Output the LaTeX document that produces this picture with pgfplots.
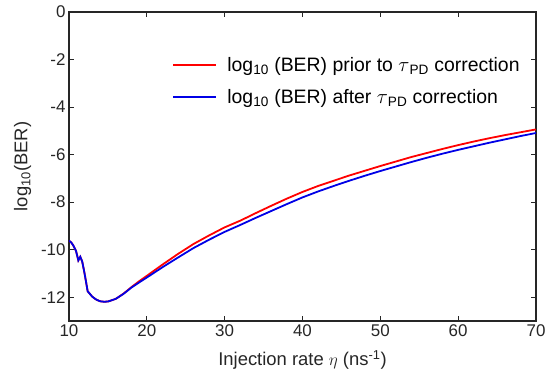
\documentclass[border=0pt]{standalone}
\usepackage{pgfplots}
\pgfplotsset{compat=1.18}
\usepackage{fontspec}
\setmainfont{Liberation Sans}
\definecolor{axc}{RGB}{38,38,38}
\definecolor{myblue}{RGB}{0,0,230}
\begin{document}
\begin{tikzpicture}
\begin{axis}[
  scale only axis, width=467bp, height=309bp,
  xmin=10, xmax=70, ymin=-13, ymax=0,
  xtick={10,20,...,70}, ytick={-12,-10,...,0},
  /pgf/number format/assume math mode=true,
  tick align=inside, major tick length=5bp,
  axis line style={axc, line width=1.1bp},
  every tick/.style={axc, line width=1.1bp},
  ticklabel style={font=\fontsize{17}{19}\selectfont, text=axc},
  label style={font=\fontsize{18.5}{21}\selectfont, text=axc},
  xlabel={Injection rate $\eta$ (ns\textsuperscript{-1})},
  ylabel={log\textsubscript{10}(BER)},
  xlabel style={yshift=-7bp},
  ylabel style={yshift=3bp},
  legend style={at={(0.976,0.866)}, anchor=north east, draw=none, fill=none,
    font=\fontsize{19.5}{22}\selectfont, row sep=12bp, text=black,
    /tikz/every odd column/.append style={column sep=8bp}},
  legend cell align=left,
  legend image code/.code={\draw[#1, line width=2bp] (0bp,0bp) -- (43bp,0bp);},
]
\addplot[red, line width=1.8bp] coordinates {
(10,-9.62)(10.3,-9.7)(10.6,-9.85)(10.9,-10.05)(11.2,-10.45)(11.45,-10.3)(11.7,-10.5)(12.0,-11.0)(12.4,-11.75)(13.0,-11.98)(13.5,-12.1)(14.0,-12.17)(14.5,-12.19)(15,-12.18)(16,-12.07)(17,-11.85)(18,-11.58)(19,-11.33)(20,-11.1)(22,-10.63)(24,-10.18)(26,-9.76)(28,-9.4)(30,-9.06)(32,-8.78)(34,-8.46)(36,-8.15)(38,-7.85)(40,-7.57)(42,-7.32)(44,-7.1)(46,-6.88)(48,-6.68)(50,-6.48)(52,-6.29)(54,-6.1)(56,-5.93)(58,-5.76)(60,-5.6)(62,-5.45)(64,-5.31)(66,-5.18)(68,-5.06)(70,-4.94)
};
\addlegendentry{log\textsubscript{10} (BER) prior to $\tau$\textsubscript{PD} correction}
\addplot[myblue, line width=1.8bp] coordinates {
(10,-9.62)(10.3,-9.7)(10.6,-9.85)(10.9,-10.05)(11.2,-10.45)(11.45,-10.3)(11.7,-10.5)(12.0,-11.0)(12.4,-11.75)(13.0,-11.98)(13.5,-12.1)(14.0,-12.17)(14.5,-12.19)(15,-12.18)(16,-12.07)(17,-11.86)(18,-11.6)(19,-11.38)(20,-11.17)(22,-10.74)(24,-10.33)(26,-9.93)(28,-9.58)(30,-9.25)(32,-8.96)(34,-8.66)(36,-8.37)(38,-8.08)(40,-7.8)(42,-7.55)(44,-7.32)(46,-7.1)(48,-6.89)(50,-6.69)(52,-6.5)(54,-6.31)(56,-6.13)(58,-5.96)(60,-5.8)(62,-5.65)(64,-5.5)(66,-5.36)(68,-5.22)(70,-5.09)
};
\addlegendentry{log\textsubscript{10} (BER) after $\tau$\textsubscript{PD} correction}
\end{axis}
\pgfresetboundingbox
\path[use as bounding box] (-69bp,-65bp) rectangle (481bp,321bp);
\end{tikzpicture}
\end{document}
